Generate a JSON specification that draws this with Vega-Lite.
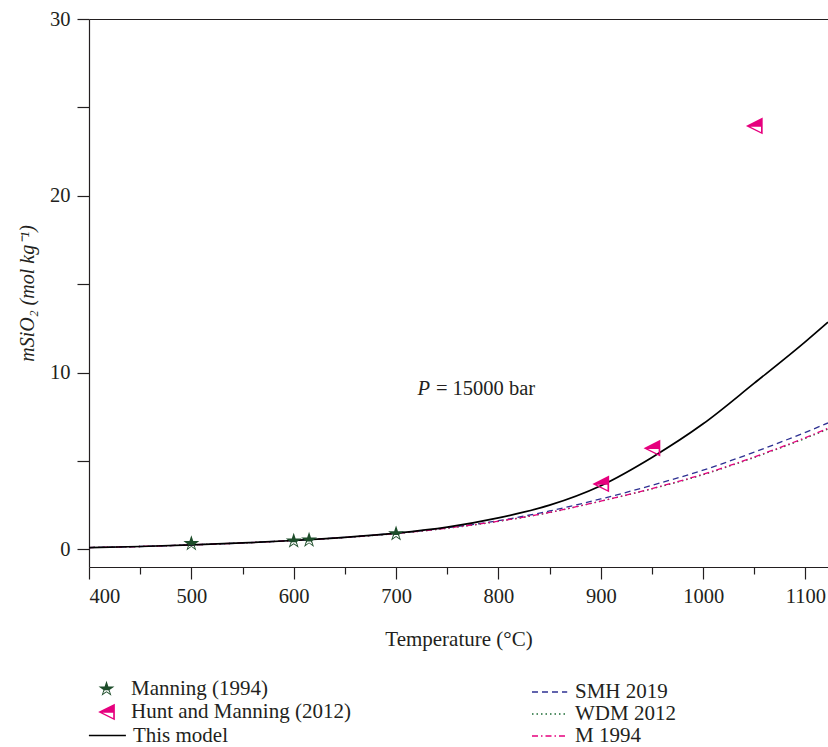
{
  "$schema": "https://vega.github.io/schema/vega-lite/v6.json",
  "width": 739,
  "height": 548,
  "autosize": "none",
  "padding": {"left": 89, "top": 19, "right": 0, "bottom": 180},
  "background": "white",
  "config": {
    "view": {"stroke": null},
    "font": "Liberation Serif",
    "axis": {
      "labelFont": "Liberation Serif",
      "titleFont": "Liberation Serif",
      "labelColor": "#231f20",
      "titleColor": "#231f20",
      "domainColor": "#231f20",
      "tickColor": "#231f20",
      "grid": false,
      "labelFontSize": 20.5,
      "titleFontSize": 21,
      "titleFontWeight": "normal",
      "domainWidth": 1.2,
      "tickWidth": 1.2
    },
    "legend": {
      "labelFont": "Liberation Serif",
      "labelFontSize": 21,
      "labelColor": "#231f20",
      "labelLimit": 0,
      "padding": 0
    }
  },
  "datasets": {
    "curves": [
      {"model": "This model", "T": 400, "m": 0.10},
      {"model": "This model", "T": 450, "m": 0.16},
      {"model": "This model", "T": 500, "m": 0.25},
      {"model": "This model", "T": 550, "m": 0.36},
      {"model": "This model", "T": 600, "m": 0.50},
      {"model": "This model", "T": 650, "m": 0.68},
      {"model": "This model", "T": 700, "m": 0.92},
      {"model": "This model", "T": 750, "m": 1.26},
      {"model": "This model", "T": 800, "m": 1.78},
      {"model": "This model", "T": 850, "m": 2.50},
      {"model": "This model", "T": 900, "m": 3.60},
      {"model": "This model", "T": 950, "m": 5.20},
      {"model": "This model", "T": 1000, "m": 7.10},
      {"model": "This model", "T": 1050, "m": 9.40},
      {"model": "This model", "T": 1100, "m": 11.75},
      {"model": "This model", "T": 1122, "m": 12.85},
      {"model": "SMH 2019", "T": 400, "m": 0.10},
      {"model": "SMH 2019", "T": 450, "m": 0.16},
      {"model": "SMH 2019", "T": 500, "m": 0.25},
      {"model": "SMH 2019", "T": 550, "m": 0.36},
      {"model": "SMH 2019", "T": 600, "m": 0.50},
      {"model": "SMH 2019", "T": 650, "m": 0.68},
      {"model": "SMH 2019", "T": 700, "m": 0.91},
      {"model": "SMH 2019", "T": 750, "m": 1.22},
      {"model": "SMH 2019", "T": 800, "m": 1.62},
      {"model": "SMH 2019", "T": 850, "m": 2.17},
      {"model": "SMH 2019", "T": 900, "m": 2.85},
      {"model": "SMH 2019", "T": 950, "m": 3.62},
      {"model": "SMH 2019", "T": 1000, "m": 4.48},
      {"model": "SMH 2019", "T": 1050, "m": 5.50},
      {"model": "SMH 2019", "T": 1100, "m": 6.62},
      {"model": "SMH 2019", "T": 1122, "m": 7.15},
      {"model": "WDM 2012", "T": 400, "m": 0.10},
      {"model": "WDM 2012", "T": 450, "m": 0.16},
      {"model": "WDM 2012", "T": 500, "m": 0.25},
      {"model": "WDM 2012", "T": 550, "m": 0.36},
      {"model": "WDM 2012", "T": 600, "m": 0.50},
      {"model": "WDM 2012", "T": 650, "m": 0.67},
      {"model": "WDM 2012", "T": 700, "m": 0.89},
      {"model": "WDM 2012", "T": 750, "m": 1.19},
      {"model": "WDM 2012", "T": 800, "m": 1.58},
      {"model": "WDM 2012", "T": 850, "m": 2.08},
      {"model": "WDM 2012", "T": 900, "m": 2.72},
      {"model": "WDM 2012", "T": 950, "m": 3.42},
      {"model": "WDM 2012", "T": 1000, "m": 4.22},
      {"model": "WDM 2012", "T": 1050, "m": 5.20},
      {"model": "WDM 2012", "T": 1100, "m": 6.28},
      {"model": "WDM 2012", "T": 1122, "m": 6.80},
      {"model": "M 1994", "T": 400, "m": 0.10},
      {"model": "M 1994", "T": 450, "m": 0.16},
      {"model": "M 1994", "T": 500, "m": 0.25},
      {"model": "M 1994", "T": 550, "m": 0.36},
      {"model": "M 1994", "T": 600, "m": 0.50},
      {"model": "M 1994", "T": 650, "m": 0.67},
      {"model": "M 1994", "T": 700, "m": 0.90},
      {"model": "M 1994", "T": 750, "m": 1.20},
      {"model": "M 1994", "T": 800, "m": 1.59},
      {"model": "M 1994", "T": 850, "m": 2.09},
      {"model": "M 1994", "T": 900, "m": 2.73},
      {"model": "M 1994", "T": 950, "m": 3.44},
      {"model": "M 1994", "T": 1000, "m": 4.25},
      {"model": "M 1994", "T": 1050, "m": 5.23},
      {"model": "M 1994", "T": 1100, "m": 6.32},
      {"model": "M 1994", "T": 1122, "m": 6.85}
    ],
    "obs": [
      {"source": "Manning (1994)", "T": 500, "m": 0.32},
      {"source": "Manning (1994)", "T": 600, "m": 0.47},
      {"source": "Manning (1994)", "T": 615, "m": 0.52},
      {"source": "Manning (1994)", "T": 700, "m": 0.88},
      {"source": "Hunt and Manning (2012)", "T": 900, "m": 3.70},
      {"source": "Hunt and Manning (2012)", "T": 950, "m": 5.72},
      {"source": "Hunt and Manning (2012)", "T": 1050, "m": 23.95}
    ],
    "note": [
      {"T": 736, "m": 9.05, "sym": "P", "rest": "= 15000 bar"}
    ]
  },
  "layer": [
    {
      "data": {"name": "curves"},
      "transform": [{"filter": "datum.model !== 'This model'"}],
      "mark": {"type": "line", "strokeWidth": 1.3, "interpolate": "monotone"},
      "encoding": {
        "x": {
          "field": "T", "type": "quantitative",
          "scale": {"domain": [400, 1122], "nice": false, "zero": false},
          "axis": {"orient": "bottom", "values": [450, 550, 650, 750, 850, 950, 1050], "labels": false, "domain": false, "tickSize": 7, "title": null}
        },
        "y": {
          "field": "m", "type": "quantitative",
          "scale": {"domain": [-1, 30], "nice": false, "zero": false},
          "axis": {"orient": "left", "values": [5, 15, 25], "labels": false, "domain": false, "tickSize": 12, "title": null}
        },
        "color": {
          "field": "model", "type": "nominal",
          "scale": {"domain": ["SMH 2019", "WDM 2012", "M 1994"], "range": ["#2e3192", "#1b6b34", "#e6007e"]},
          "legend": {"title": null, "orient": "none", "legendX": 448.6, "legendY": 661, "symbolType": "M-1.6,0H1.6", "symbolSize": 484, "symbolStrokeWidth": 1.3, "rowPadding": 0, "labelOffset": 13.4}
        },
        "strokeDash": {
          "field": "model", "type": "nominal",
          "scale": {"domain": ["SMH 2019", "WDM 2012", "M 1994"], "range": [[6, 4], [1.5, 3], [6, 3, 1.5, 3]]},
          "legend": {"title": null, "orient": "none", "legendX": 448.6, "legendY": 661, "symbolType": "M-1.6,0H1.6", "symbolSize": 484, "symbolStrokeWidth": 1.3, "rowPadding": 0, "labelOffset": 13.4}
        }
      }
    },
    {
      "data": {"name": "curves"},
      "transform": [{"filter": "datum.model === 'This model'"}],
      "mark": {"type": "line", "strokeWidth": 1.7, "interpolate": "monotone"},
      "encoding": {
        "x": {
          "field": "T", "type": "quantitative",
          "axis": {"orient": "bottom", "values": [400, 500, 600, 700, 800, 900, 1000, 1100], "format": "d", "tickSize": 12, "labelPadding": 7, "title": "Temperature (°C)", "titlePadding": 22}
        },
        "y": {
          "field": "m", "type": "quantitative",
          "axis": {"orient": "left", "values": [0, 10, 20, 30], "format": "d", "tickSize": 12, "labelPadding": 7, "title": "mSiO₂ (mol kg⁻¹)", "titleFontStyle": "italic", "titleFontSize": 20, "titlePadding": 12}
        },
        "color": {
          "field": "model", "type": "nominal",
          "scale": {"domain": ["This model"], "range": ["#000000"]},
          "legend": {"title": null, "orient": "none", "legendX": 5.9, "legendY": 704, "symbolType": "M-1.6,0H1.6", "symbolSize": 535, "symbolStrokeWidth": 1.5, "labelOffset": 13}
        }
      }
    },
    {
      "data": {"name": "obs"},
      "mark": {"type": "point", "filled": true, "size": 280, "strokeWidth": 0, "opacity": 1},
      "encoding": {
        "x": {
          "field": "T", "type": "quantitative",
          "axis": {"orient": "top", "ticks": false, "labels": false, "title": null, "domain": true}
        },
        "y": {"field": "m", "type": "quantitative", "axis": null},
        "color": {
          "field": "source", "type": "nominal",
          "scale": {"domain": ["Manning (1994)", "Hunt and Manning (2012)"], "range": ["#1d4d2a", "#e6007e"]},
          "legend": {"title": null, "orient": "none", "legendX": 7, "legendY": 659.5, "symbolSize": 280, "rowPadding": 1, "labelOffset": 14}
        },
        "shape": {
          "field": "source", "type": "nominal",
          "scale": {
            "domain": ["Manning (1994)", "Hunt and Manning (2012)"],
            "range": [
              "M0,-1L0.225,-0.309L0.951,-0.309L0.363,0.118L0.588,0.809L0,0.382L-0.588,0.809L-0.363,0.118L-0.951,-0.309L-0.225,-0.309Z M-0.22,0.15L-0.42,0.55L0,0.27L0.42,0.55L0.22,0.15Z",
              "M-1,0L1,-1L1,1Z M-0.46,0.1L0.8,0.73L0.8,0.1Z"
            ]
          },
          "legend": {"title": null, "orient": "none", "legendX": 7, "legendY": 659.5, "symbolSize": 280, "rowPadding": 1, "labelOffset": 14}
        }
      }
    },
    {
      "data": {"name": "note"},
      "mark": {"type": "text", "align": "right", "baseline": "middle", "dx": -3, "font": "Liberation Serif", "fontSize": 20.5, "fontStyle": "italic", "color": "#231f20"},
      "encoding": {
        "x": {"field": "T", "type": "quantitative", "axis": null},
        "y": {"field": "m", "type": "quantitative", "axis": null},
        "text": {"field": "sym"}
      }
    },
    {
      "data": {"name": "note"},
      "mark": {"type": "text", "align": "left", "baseline": "middle", "dx": 3, "font": "Liberation Serif", "fontSize": 20.5, "color": "#231f20"},
      "encoding": {
        "x": {"field": "T", "type": "quantitative", "axis": null},
        "y": {"field": "m", "type": "quantitative", "axis": null},
        "text": {"field": "rest"}
      }
    }
  ],
  "resolve": {
    "scale": {"color": "independent", "strokeDash": "independent", "shape": "independent"},
    "axis": {"x": "independent", "y": "independent"}
  }
}
